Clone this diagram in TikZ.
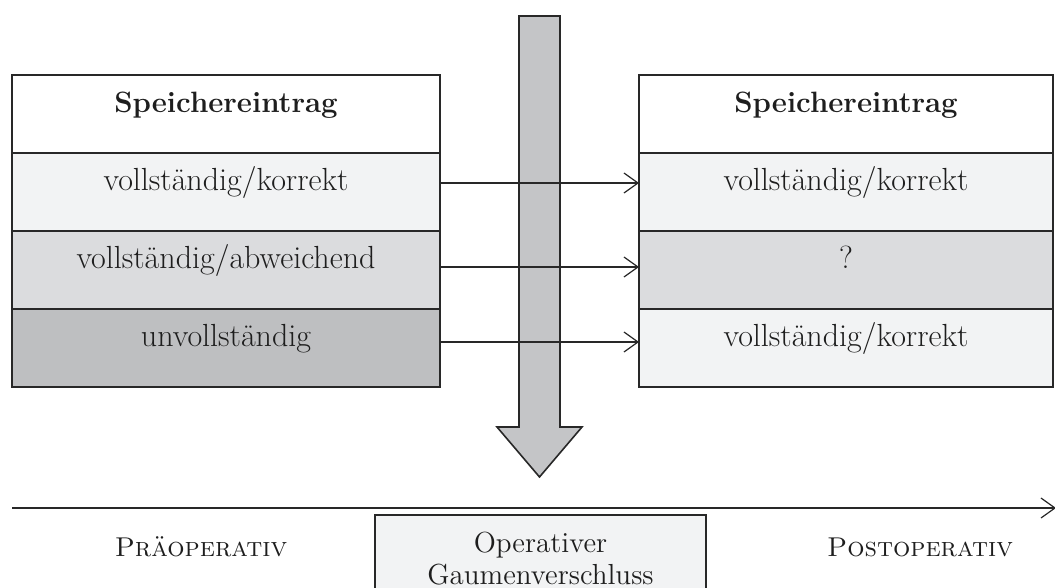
\documentclass[tikz,border=0pt]{standalone}
\usepackage{tikz}
\usetikzlibrary{positioning,arrows.meta}
\definecolor{mylinec}{RGB}{40,40,40}
\definecolor{mytextc}{RGB}{30,30,30}
\definecolor{mygrayi}{RGB}{242,243,244}
\definecolor{mygrayii}{RGB}{219,220,222}
\definecolor{mygrayiii}{RGB}{190,191,193}
\definecolor{myarrowc}{RGB}{196,197,199}

\begin{document}
\begin{tikzpicture}[x=0.5pt,y=-0.5pt,node distance=0pt,outer sep=0pt,
	>={Straight Barb[length=7pt,width=10pt]},
	cell/.style={
		draw=mylinec,
		line width=0.8pt,
		fill=white,
		inner sep=0pt,
		minimum height=39pt,
		text height=6pt,
		text depth=7pt,
		font={\fontsize{16}{18}\selectfont\color{mytextc}},
		align=center},
	cellL/.style={cell,minimum width=214pt},
	cellR/.style={cell,minimum width=207pt},
	headL/.style={cellL,font={\fontsize{14.7}{17}\selectfont\bfseries\color{mytextc}}},
	headR/.style={cellR,font={\fontsize{14.7}{17}\selectfont\bfseries\color{mytextc}}},
	link/.style={->,draw=mylinec,line width=0.6pt},
	phase/.style={font={\fontsize{13.6}{16}\selectfont\scshape\color{mytextc}}},
	]
	\useasboundingbox (0,0) rectangle (1055,588);
	\clip (0,0) rectangle (1055,588);
	% memory entries before the operation
	\node[headL, anchor=north west] (SL) at (12,75) {Speichereintrag};
	\node[cellL, fill=mygrayi, below=of SL] (L1) {vollständig/korrekt};
	\node[cellL, fill=mygrayii, below=of L1] (L2) {vollständig/abweichend};
	\node[cellL, fill=mygrayiii, below=of L2] (L3) {unvollständig};
	% memory entries after the operation
	\node[headR, anchor=north west] (SR) at (639,75) {Speichereintrag};
	\node[cellR, fill=mygrayi, below=of SR] (R1) {vollständig/korrekt};
	\node[cellR, fill=mygrayii, below=of R1] (R2) {?};
	\node[cellR, fill=mygrayi, below=of R2] (R3) {vollständig/korrekt};
	% big time arrow
	\draw[draw=mylinec,line width=0.8pt,fill=myarrowc,line join=miter]
		(519,16) -- (560,16) -- (560,427) -- (582,427) -- (539.5,477)
		-- (497,427) -- (519,427) -- cycle;
	\foreach \i/\s in {1/4.5pt,2/1.5pt,3/3pt}
		\draw[link] ([yshift=\s]L\i.east) -- ([yshift=\s]R\i.west);
	% time line
	\coordinate (TS) at (12,508);
	\coordinate (TE) at (1056,508);
	\draw[link] (TS) -- (TE);
	\node[phase] (PRE) at (201,547) {Präoperativ};
	\node[phase] (POST) at (920,547) {Postoperativ};
	\node[cell, fill=mygrayi, anchor=north, minimum width=165.5pt,
		minimum height=44pt, text height=, text depth=,
		font={\fontsize{14.5}{16}\selectfont\color{mytextc}}] (OP) at (540.5,515)
		{Operativer\\Gaumenverschluss};
\end{tikzpicture}
\end{document}
